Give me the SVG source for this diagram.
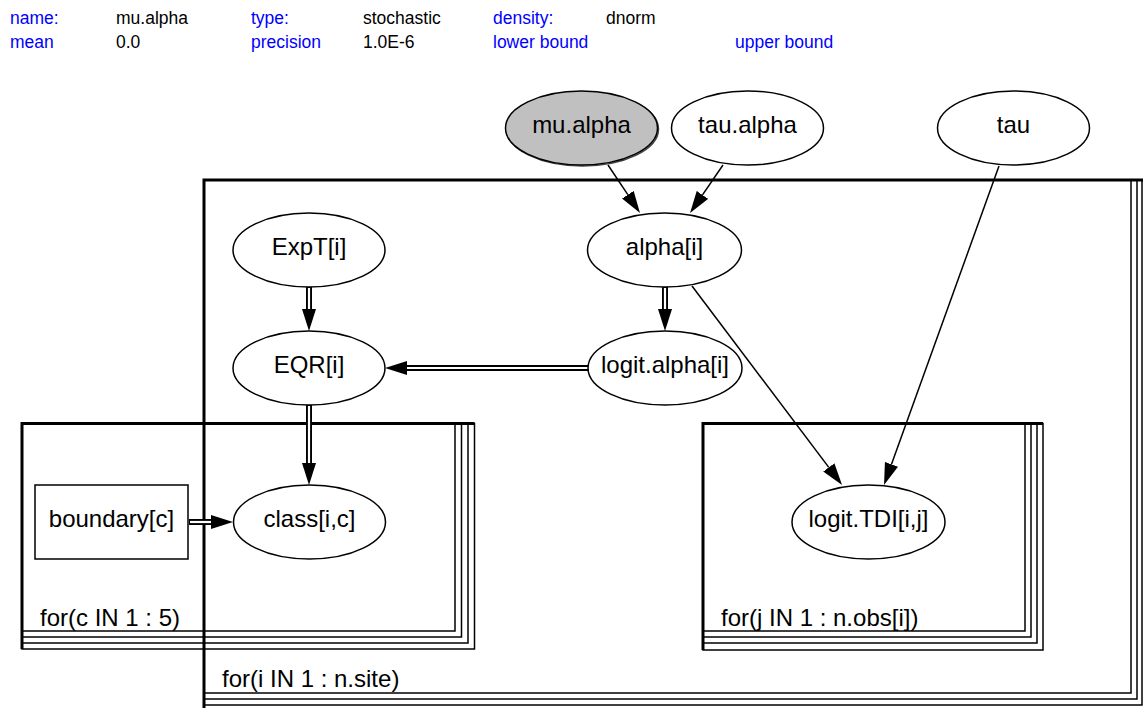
<svg xmlns="http://www.w3.org/2000/svg" width="1143" height="708" viewBox="0 0 1143 708">
<style>
text{font-family:"Liberation Sans",Arial,sans-serif;}
.hl{font-size:17.5px;fill:#0000ff;}
.hv{font-size:17.5px;fill:#000;}
.lbl{font-size:24px;fill:#000;text-anchor:middle;}
.plbl{font-size:24px;fill:#000;}
.node{fill:#fff;stroke:#000;stroke-width:1.5;}
.plate{fill:none;stroke:#000;stroke-width:1.5;}
.pthick{fill:none;stroke:#000;stroke-width:3;}
.single{fill:none;stroke:#000;stroke-width:1.5;marker-end:url(#ah);}
.dblk{fill:none;stroke:#000;stroke-width:6;marker-end:url(#ah);}
.dwht{fill:none;stroke:#fff;stroke-width:2.2;}
</style>
<defs>
<marker id="ah" viewBox="0 0 22 14" refX="0" refY="7" markerWidth="22" markerHeight="14" markerUnits="userSpaceOnUse" orient="auto">
<path d="M0,0 L22,7 L0,14 z" fill="#000"/>
</marker>
</defs>
<rect width="1143" height="708" fill="#fff"/>
<g id="header">
<text class="hl" x="10" y="24">name:</text>
<text class="hv" x="116" y="24">mu.alpha</text>
<text class="hl" x="251" y="24">type:</text>
<text class="hv" x="363" y="24">stochastic</text>
<text class="hl" x="493" y="24">density:</text>
<text class="hv" x="606" y="24">dnorm</text>
<text class="hl" x="10" y="48">mean</text>
<text class="hv" x="116" y="48">0.0</text>
<text class="hl" x="251" y="48">precision</text>
<text class="hv" x="363" y="48">1.0E-6</text>
<text class="hl" x="493" y="48">lower bound</text>
<text class="hl" x="735" y="48">upper bound</text>
</g>
<g id="plate-i">
<rect class="plate" x="204" y="180" width="927" height="513"/>
<rect class="plate" x="204" y="180" width="933" height="519"/>
<rect class="plate" x="204" y="180" width="938" height="525"/>
<rect class="plate" x="204" y="180" width="944" height="531"/>
<path class="pthick" d="M204,711 V180 H1150"/>
<text class="plbl" x="222" y="687">for(i IN 1 : n.site)</text>
</g>
<g id="plate-c">
<rect class="plate" x="22" y="423.5" width="433" height="207.5"/>
<rect class="plate" x="22" y="423.5" width="439.5" height="213.5"/>
<rect class="plate" x="22" y="423.5" width="446" height="219.5"/>
<rect class="plate" x="22" y="423.5" width="452.5" height="225.5"/>
<path class="pthick" d="M22,649 V423.5 H474.5"/>
<text class="plbl" x="40" y="626">for(c IN 1 : 5)</text>
</g>
<g id="plate-j">
<rect class="plate" x="703" y="423.5" width="322" height="207.5"/>
<rect class="plate" x="703" y="423.5" width="328" height="213.5"/>
<rect class="plate" x="703" y="423.5" width="334" height="219.5"/>
<rect class="plate" x="703" y="423.5" width="340" height="226.5"/>
<path class="pthick" d="M703,650 V423.5 H1043"/>
<text class="plbl" x="721" y="626">for(j IN 1 : n.obs[i])</text>
</g>
<g id="connectors">
<path class="single" d="M608,165 L627.8,194.7"/>
<path class="single" d="M723,165 L702.5,194.9"/>
<path class="single" d="M999,166 L891.5,464.3"/>
<path class="single" d="M692,286 L828.8,467.4"/>
<path class="dblk" d="M665,287 L665,309"/>
<path class="dwht" d="M665,288 L665,309"/>
<path class="dblk" d="M309,287 L309,309"/>
<path class="dwht" d="M309,288 L309,309"/>
<path class="dblk" d="M589,368 L407,368"/>
<path class="dwht" d="M588,368 L407,368"/>
<path class="dblk" d="M309,405 L309,463"/>
<path class="dwht" d="M309,406 L309,463"/>
<path class="dblk" d="M189,522 L211,522"/>
<path class="dwht" d="M190,522 L211,522"/>
</g>
<g id="mu.alpha">
<ellipse cx="582.5" cy="129" rx="76" ry="37" fill="none" stroke="#444" stroke-width="1.5"/>
<ellipse class="node" cx="581.5" cy="128" rx="76" ry="37" style="fill:#c0c0c0"/>
<text class="lbl" x="581.5" y="133">mu.alpha</text>
</g>
<g id="tau.alpha">
<ellipse class="node" cx="747.5" cy="128" rx="76" ry="37"/>
<text class="lbl" x="747.5" y="133">tau.alpha</text>
</g>
<g id="tau">
<ellipse class="node" cx="1013.5" cy="128" rx="76" ry="37"/>
<text class="lbl" x="1013.5" y="133">tau</text>
</g>
<g id="ExpT">
<ellipse class="node" cx="309" cy="250" rx="76" ry="37"/>
<text class="lbl" x="309" y="255">ExpT[i]</text>
</g>
<g id="alpha">
<ellipse class="node" cx="664.5" cy="250" rx="77" ry="37"/>
<text class="lbl" x="664.5" y="255">alpha[i]</text>
</g>
<g id="EQR">
<ellipse class="node" cx="309" cy="368" rx="76" ry="37"/>
<text class="lbl" x="309" y="373">EQR[i]</text>
</g>
<g id="logit.alpha">
<ellipse class="node" cx="665" cy="368" rx="77" ry="37"/>
<text class="lbl" x="665" y="373">logit.alpha[i]</text>
</g>
<g id="boundary">
<rect class="node" x="35" y="485" width="153" height="74"/>
<text class="lbl" x="111.5" y="527">boundary[c]</text>
</g>
<g id="class">
<ellipse class="node" cx="309.5" cy="522" rx="76" ry="37"/>
<text class="lbl" x="309.5" y="527">class[i,c]</text>
</g>
<g id="logit.TDI">
<ellipse class="node" cx="868.5" cy="522" rx="76.5" ry="37"/>
<text class="lbl" x="868.5" y="527">logit.TDI[i,j]</text>
</g>
</svg>
